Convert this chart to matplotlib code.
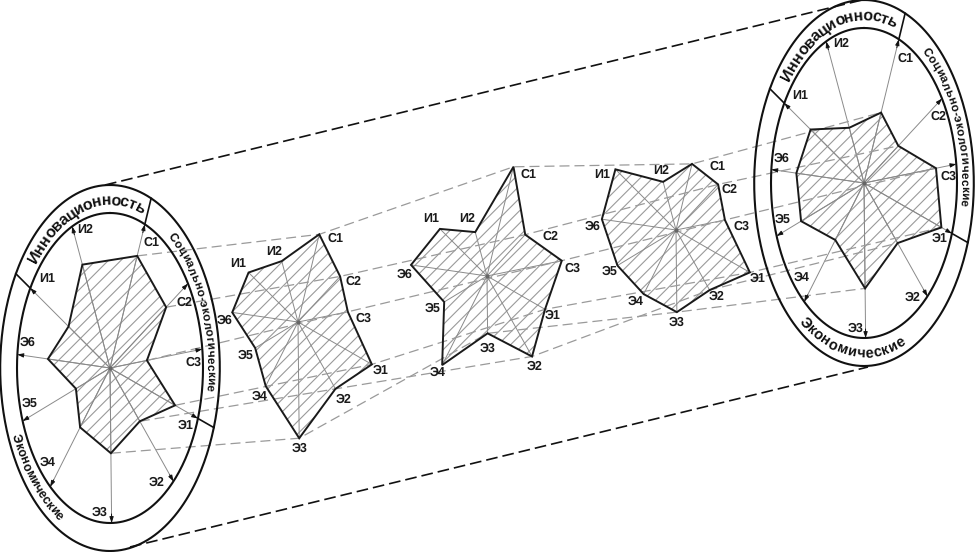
#!/usr/bin/env python3
# -*- coding: utf-8 -*-
"""Пять лепестковых диаграмм внутри цилиндра"""

import numpy as np
import matplotlib
matplotlib.use('Agg')
import matplotlib.pyplot as plt
from matplotlib.collections import LineCollection
from matplotlib.font_manager import FontProperties
from matplotlib.patches import Polygon
from matplotlib.textpath import TextPath

plt.rcParams['font.family'] = ['Liberation Sans', 'DejaVu Sans']
plt.rcParams['text.hinting'] = 'none'

# подписи осей, по часовой стрелке от С1
axis_labels = ['С1', 'С2', 'С3', 'Э1', 'Э2', 'Э3', 'Э4', 'Э5', 'Э6', 'И1', 'И2']
axis_angles = [22, 57, 83, 109, 137, 179, 220, 250, 275, 301, 336]

# значения показателей (доля от радиуса оси)
values_1 = [0.78, 0.72, 0.40, 0.74, 0.47, 0.55, 0.50, 0.39, 0.67, 0.52, 0.73]
values_2 = [0.61, 0.54, 0.54, 0.84, 0.59, 0.75, 0.54, 0.49, 0.71, 0.62, 0.43]
values_3 = [0.76, 0.49, 0.81, 0.66, 0.71, 0.37, 0.75, 0.49, 0.82, 0.59, 0.31]
values_4 = [0.46, 0.54, 0.53, 0.84, 0.53, 0.53, 0.54, 0.67, 0.80, 0.76, 0.34]
values_5 = [0.49, 0.44, 0.78, 0.88, 0.53, 0.68, 0.48, 0.72, 0.73, 0.67, 0.39]

# центры диаграмм на рисунке
centers = [(110, 368), (298, 322), (487, 276), (676, 230), (864, 183)]

# положения подписей осей
label_pos_1 = [(151, 243), (184, 303), (193, 362), (186, 426), (157, 483), (100, 513),
               (48, 463), (30, 404), (28, 343), (47, 279), (85, 230)]
label_pos_2 = [(335, 239), (353, 282), (363, 318), (381, 371), (344, 400), (300, 448),
               (260, 397), (246, 356), (225, 321), (238, 264), (274, 252)]
label_pos_3 = [(528, 175), (550, 237), (572, 268), (553, 316), (535, 367), (488, 348),
               (438, 373), (433, 309), (405, 275), (431, 219), (467, 219)]
label_pos_4 = [(717, 167), (729, 190), (741, 226), (758, 279), (717, 297), (677, 322),
               (636, 302), (610, 272), (593, 227), (602, 175), (661, 171)]
label_pos_5 = [(905, 59), (938, 117), (948, 177), (940, 239), (913, 298), (856, 328),
               (802, 278), (783, 220), (782, 159), (800, 96), (841, 44)]

# геометрия кольца
R_INNER = 155
R_OUTER = 183
SQUEEZE = 0.6
SPLIT_AXES = [0, 3, 9]

# по какой дуге идут надписи: текст, начало, конец, по часовой, размер
left_titles = [('Инновационность', 309, 380, True, 11.5, 'bold'),
               ('Социально-экологические', 37, 98, True, 8.5, 'bold'),
               ('Экономические', 247, 208, False, 9, 'bold')]
right_titles = [('Инновационность', 308, 379, True, 11.5, 'bold'),
                ('Социально-экологические', 37, 98, True, 8.5, 'bold'),
                ('Экономические', 217, 157, False, 10.5, 'bold')]


def to_xy(center, angle, r):
    """Точка на диске -> координаты рисунка"""
    a = np.radians(angle)
    return center[0] + SQUEEZE * r * np.sin(a), center[1] - r * np.cos(a)


def radar_points(center, values):
    return np.array([to_xy(center, a, v * R_INNER) for a, v in zip(axis_angles, values)])


def draw_hatch(ax, poly, pts):
    """Штриховка, обрезанная по контуру"""
    xmin, ymin = pts.min(axis=0) - 5
    xmax, ymax = pts.max(axis=0) + 5
    h = ymax - ymin
    segs = []
    for x0 in np.arange(xmin - h, xmax, 12.5):
        segs.append([(x0, ymax), (x0 + h, ymin)])
    lines = LineCollection(segs, colors='#9a9a9a', linewidths=0.8, zorder=2)
    ax.add_collection(lines)
    lines.set_clip_path(poly)


def draw_radar(ax, center, values, labels_xy):
    pts = radar_points(center, values)
    poly = Polygon(pts, closed=True, facecolor='white', edgecolor='none', zorder=1)
    ax.add_patch(poly)
    draw_hatch(ax, poly, pts)
    for a, v in zip(axis_angles, values):
        x, y = to_xy(center, a, v * R_INNER)
        ax.plot([center[0], x], [center[1], y], color='#8a8a8a', lw=0.7, zorder=3)
    ax.add_patch(Polygon(pts, closed=True, fill=False, edgecolor='#1a1a1a', lw=1.4, zorder=5))
    ax.plot(center[0], center[1], 'o', color='#666666', ms=2, zorder=6)
    for name, (x, y) in zip(axis_labels, labels_xy):
        ax.text(x, y, name, fontsize=9, fontweight='bold', ha='center', va='center',
                color='#1a1a1a', zorder=7)


def draw_ring(ax, center, titles):
    theta = np.linspace(0, 360, 361)
    for r in (R_INNER, R_OUTER):
        xs, ys = to_xy(center, theta, r)
        ax.plot(xs, ys, color='#111111', lw=1.5, zorder=5)

    # оси с засечками до края диаграммы
    for i, a in enumerate(axis_angles):
        x0, y0 = to_xy(center, a, 0)
        x1, y1 = to_xy(center, a, R_INNER)
        ax.plot([x0, x1], [y0, y1], color='#8a8a8a', lw=0.7, zorder=3)
        ax.annotate('', xy=(x1, y1), xytext=to_xy(center, a, R_INNER - 9),
                    arrowprops=dict(arrowstyle='-|>,head_width=0.12,head_length=0.35',
                                    color='#111111', lw=0.7, shrinkA=0, shrinkB=0), zorder=6)
        if i in SPLIT_AXES:
            x2, y2 = to_xy(center, a, R_OUTER)
            ax.plot([x1, x2], [y1, y2], color='#111111', lw=1.2, zorder=5)

    for title in titles:
        draw_curved_text(ax, center, *title)


def advance(ch, fp):
    # ширина символа вместе с полями
    both = TextPath((0, 0), 'n' + ch + 'n', prop=fp).get_extents().width
    base = TextPath((0, 0), 'nn', prop=fp).get_extents().width
    return both - base


def draw_curved_text(ax, center, text, start, end, clockwise, size, weight):
    """Текст по дуге кольца, по одному символу"""
    r = (R_INNER + R_OUTER) / 2
    grid = np.linspace(start, end, 400)
    px, py = to_xy(center, grid, r)
    arc = np.concatenate([[0], np.cumsum(np.hypot(np.diff(px), np.diff(py)))])

    fp = FontProperties(family='Liberation Sans', size=size, weight=weight)
    widths = np.array([advance(ch, fp) for ch in text])
    mids = (np.cumsum(widths) - widths / 2) / widths.sum() * arc[-1]

    for ch, s in zip(text, mids):
        ang = np.interp(s, arc, grid)
        x, y = to_xy(center, ang, r)
        x2, y2 = to_xy(center, ang + 0.5, r)
        rot = np.degrees(np.arctan2(-(y2 - y), x2 - x))
        if not clockwise:
            rot += 180
        ax.text(x, y, ch, fontproperties=fp, rotation=rot, rotation_mode='anchor',
                ha='center', va='center_baseline', color='#111111', zorder=7)


def main():
    fig = plt.figure(figsize=(9.75, 5.52), dpi=100)
    ax = fig.add_axes([0, 0, 1, 1])
    ax.set_xlim(0, 975)
    ax.set_ylim(552, 0)
    ax.axis('off')

    all_values = [values_1, values_2, values_3, values_4, values_5]
    all_labels = [label_pos_1, label_pos_2, label_pos_3, label_pos_4, label_pos_5]

    # огибающие цилиндра
    ax.plot([105, 862], [185, 0], color='#111111', lw=1.2, ls=(0, (7, 3)), zorder=4)
    ax.plot([130, 868], [547, 367], color='#111111', lw=1.2, ls=(0, (7, 3)), zorder=4)

    for center, values, labels_xy in zip(centers, all_values, all_labels):
        draw_radar(ax, center, values, labels_xy)

    draw_ring(ax, centers[0], left_titles)
    draw_ring(ax, centers[-1], right_titles)

    # штриховые связи одноимённых показателей (С1..Э3)
    points = [radar_points(c, v) for c, v in zip(centers, all_values)]
    for i in range(6):
        xs = [p[i][0] for p in points]
        ys = [p[i][1] for p in points]
        ax.plot(xs, ys, color='#9a9a9a', lw=0.9, ls=(0, (8, 4)), zorder=4)

    fig.savefig('out.png', dpi=100, facecolor='white')
    plt.close(fig)


if __name__ == "__main__":
    main()
